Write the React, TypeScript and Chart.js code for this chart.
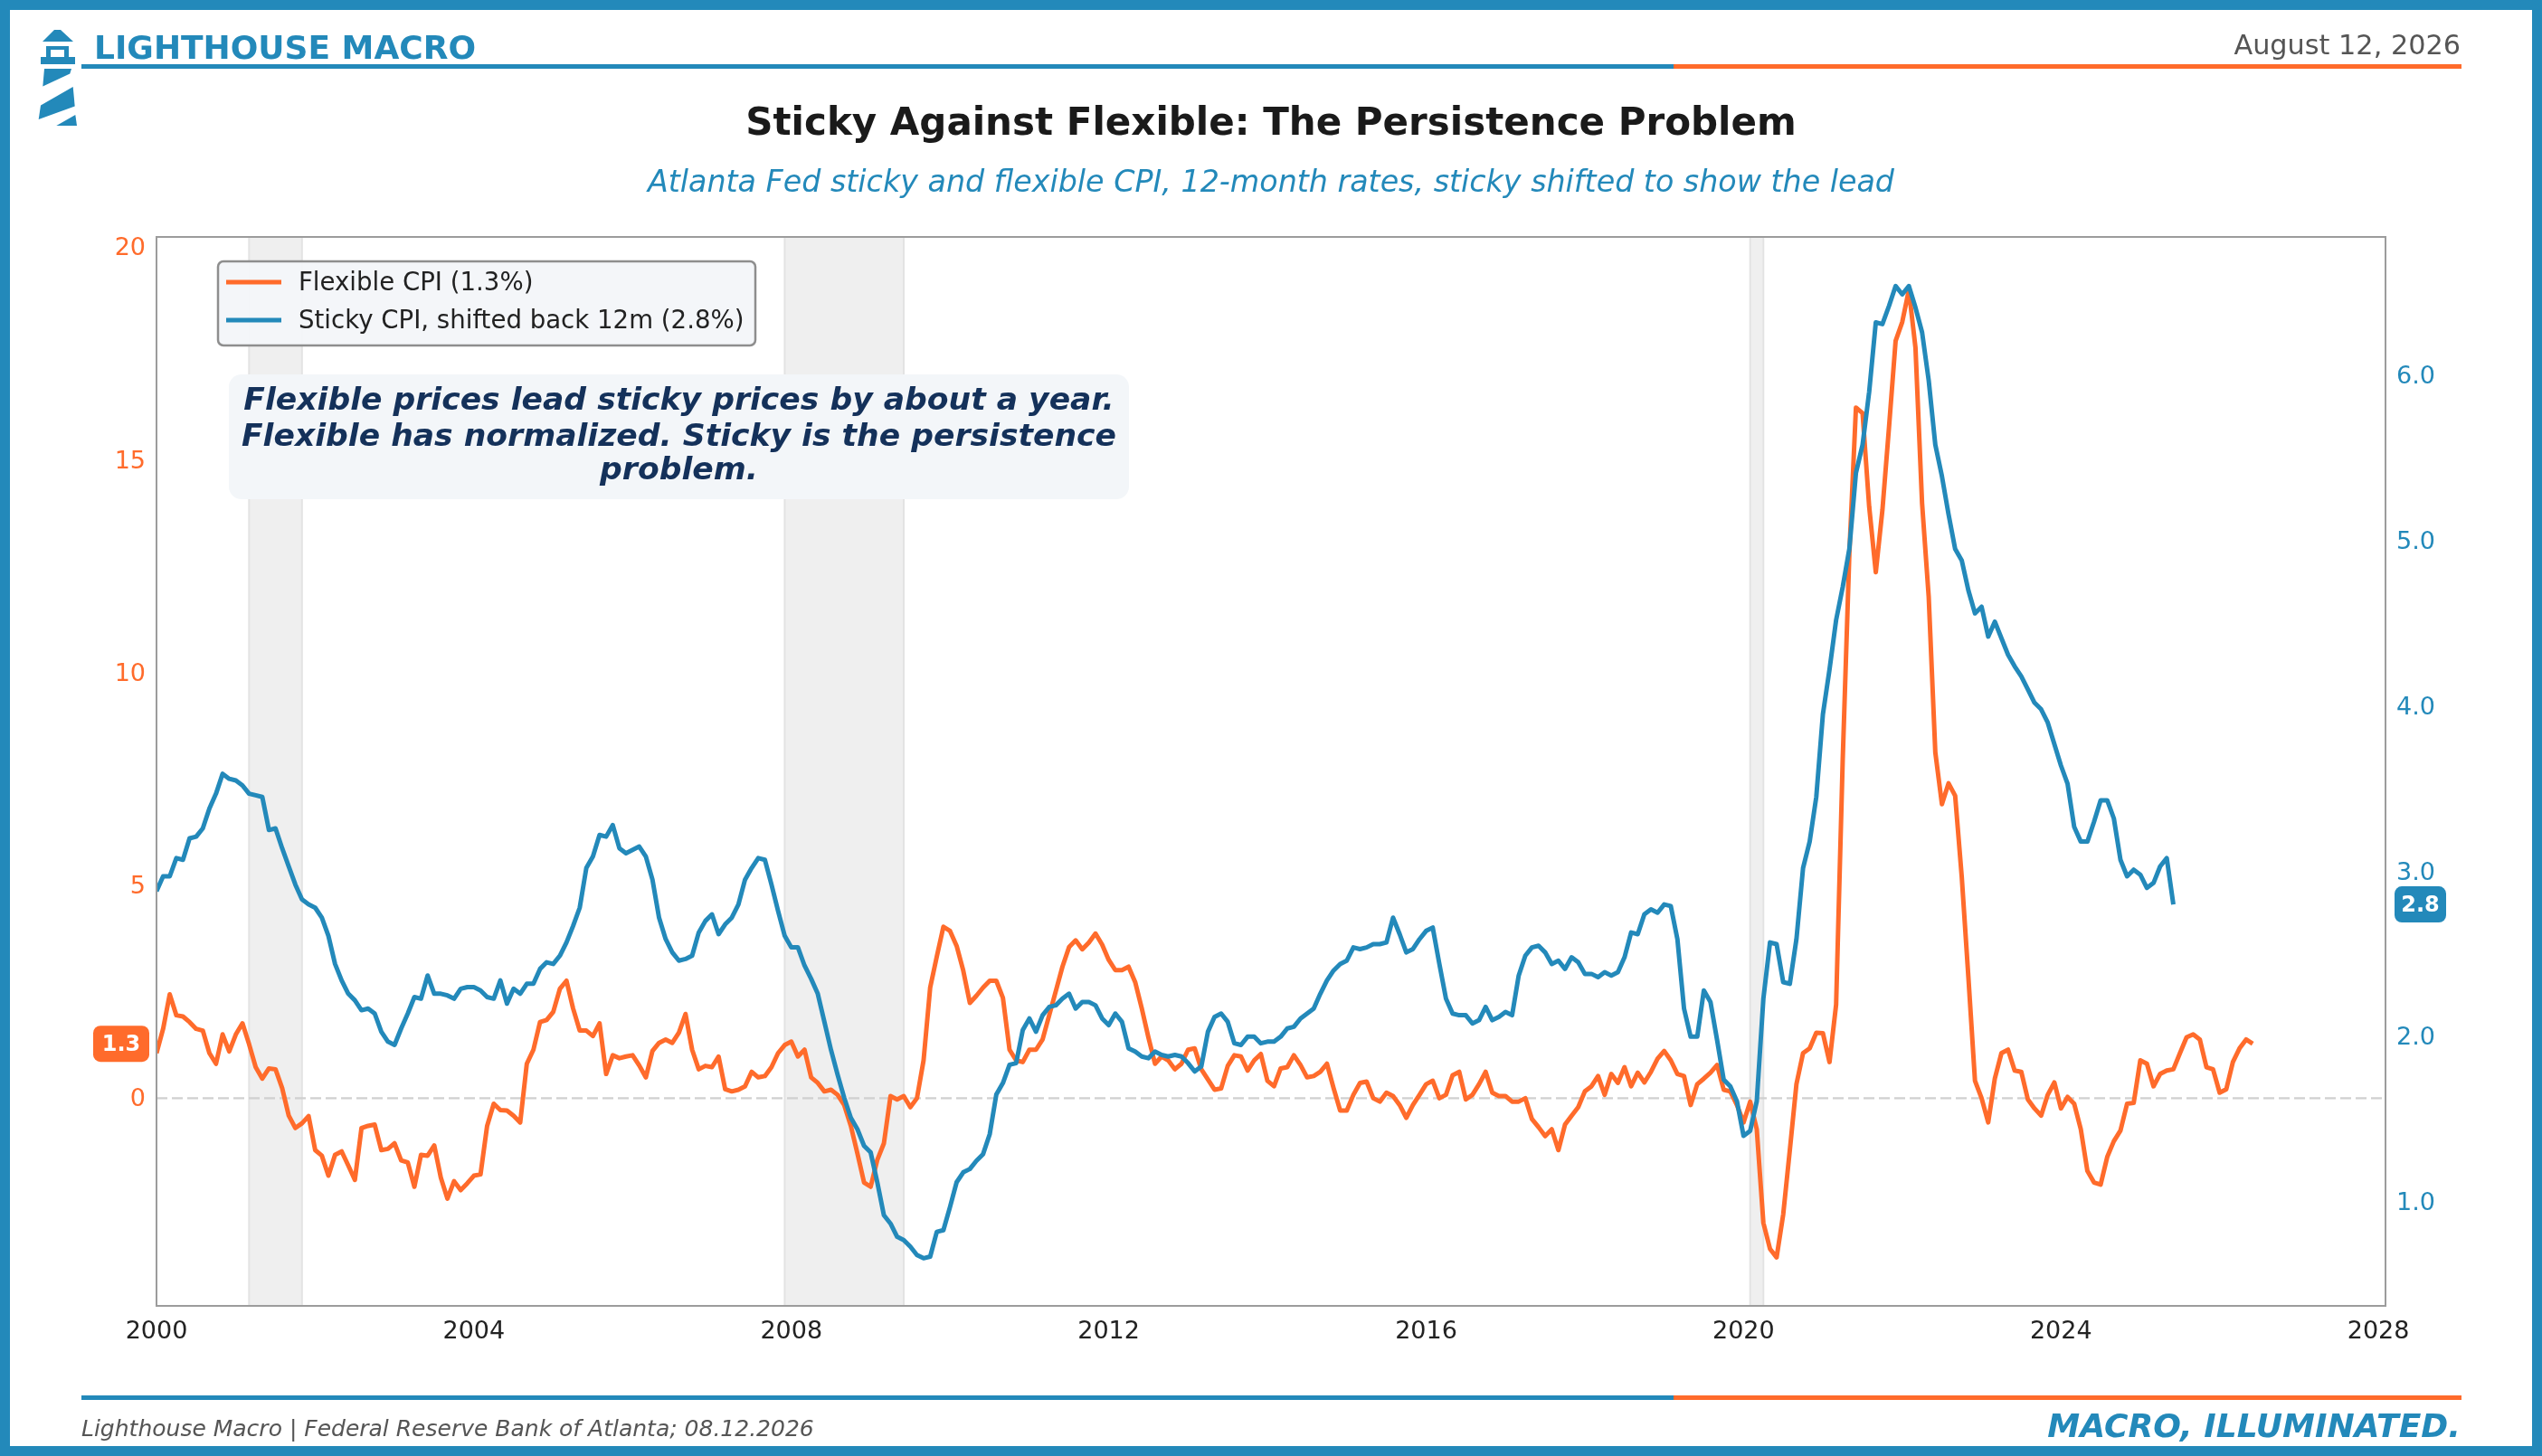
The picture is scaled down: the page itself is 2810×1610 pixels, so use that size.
import React, { useEffect, useRef } from 'react';
import { Chart, registerables } from 'chart.js';

Chart.register(...registerables);

const FONT = "'DejaVu Sans', 'Noto Sans', sans-serif";
const BLUE = '#2389BA';
const ORANGE = '#FF6B2B';
const NAVY = '#14315A';

// ---- data (monthly, 12-month % change) ----
const FLEX_START = '2000-01';
const STICKY_START = '2000-01'; // sticky CPI shifted back 12 months

const flexibleCpi: number[] = [
  1.06, 1.63, 2.44, 1.95, 1.92, 1.79, 1.63, 1.59, 1.06, 0.81, 1.50, 1.10, // 2000
  1.50, 1.76, 1.27, 0.73, 0.46, 0.70, 0.68, 0.24, -0.41, -0.70, -0.59, -0.42, // 2001
  -1.22, -1.35, -1.82, -1.33, -1.25, -1.58, -1.92, -0.70, -0.65, -0.62, -1.22, -1.19, // 2002
  -1.06, -1.46, -1.51, -2.08, -1.33, -1.35, -1.11, -1.87, -2.36, -1.95, -2.16, -2.00, // 2003
  -1.82, -1.79, -0.65, -0.13, -0.28, -0.29, -0.41, -0.57, 0.81, 1.14, 1.79, 1.84, // 2004
  2.03, 2.57, 2.76, 2.11, 1.59, 1.59, 1.46, 1.76, 0.57, 1.01, 0.94, 0.98, // 2005
  1.01, 0.77, 0.49, 1.11, 1.30, 1.38, 1.30, 1.54, 1.98, 1.14, 0.68, 0.76, // 2006
  0.73, 0.98, 0.21, 0.16, 0.20, 0.28, 0.62, 0.49, 0.52, 0.73, 1.06, 1.25, // 2007
  1.33, 0.98, 1.14, 0.49, 0.36, 0.16, 0.20, 0.08, -0.16, -0.65, -1.30, -1.98, // 2008
  -2.08, -1.45, -1.06, 0.05, -0.03, 0.05, -0.21, 0.00, 0.89, 2.60, 3.33, 4.03, // 2009
  3.93, 3.58, 3.00, 2.24, 2.41, 2.60, 2.76, 2.76, 2.36, 1.14, 0.89, 0.85, // 2010
  1.14, 1.14, 1.38, 1.95, 2.52, 3.09, 3.55, 3.71, 3.50, 3.66, 3.87, 3.61, // 2011
  3.25, 3.01, 3.01, 3.09, 2.73, 2.11, 1.43, 0.81, 0.98, 0.89, 0.68, 0.81, // 2012
  1.14, 1.17, 0.68, 0.44, 0.20, 0.23, 0.76, 1.01, 0.98, 0.65, 0.89, 1.04, // 2013
  0.41, 0.28, 0.70, 0.73, 1.01, 0.78, 0.49, 0.52, 0.62, 0.81, 0.24, -0.29, // 2014
  -0.29, 0.08, 0.36, 0.39, 0.00, -0.08, 0.13, 0.05, -0.16, -0.46, -0.16, 0.08, // 2015
  0.33, 0.41, 0.00, 0.08, 0.54, 0.62, -0.03, 0.08, 0.33, 0.62, 0.13, 0.05, // 2016
  0.05, -0.08, -0.08, 0.00, -0.49, -0.68, -0.89, -0.73, -1.22, -0.62, -0.41, -0.21, // 2017
  0.16, 0.28, 0.52, 0.08, 0.57, 0.36, 0.73, 0.28, 0.60, 0.37, 0.62, 0.93, // 2018
  1.11, 0.89, 0.57, 0.52, -0.16, 0.33, 0.46, 0.60, 0.78, 0.20, 0.16, -0.16, // 2019
  -0.57, -0.08, -0.73, -2.93, -3.54, -3.74, -2.73, -1.22, 0.33, 1.06, 1.17, 1.54, // 2020
  1.53, 0.85, 2.20, 7.97, 12.80, 16.23, 16.10, 13.90, 12.36, 13.82, 15.77, 17.80, // 2021
  18.24, 18.99, 17.64, 13.98, 11.79, 8.13, 6.91, 7.40, 7.11, 5.20, 2.85, 0.41, // 2022
  0.00, -0.57, 0.46, 1.06, 1.14, 0.65, 0.62, -0.03, -0.24, -0.41, 0.08, 0.37, // 2023
  -0.24, 0.03, -0.13, -0.73, -1.71, -1.98, -2.03, -1.38, -1.01, -0.76, -0.13, -0.11, // 2024
  0.89, 0.81, 0.28, 0.57, 0.65, 0.68, 1.06, 1.43, 1.50, 1.38, 0.73, 0.68, // 2025
  0.13, 0.21, 0.85, 1.17, 1.38, 1.28, // 2026
];

const stickyCpiShifted: number[] = [
  2.88, 2.97, 2.97, 3.08, 3.07, 3.20, 3.21, 3.26, 3.38, 3.47, 3.59, 3.56, // 2000
  3.55, 3.52, 3.47, 3.46, 3.45, 3.25, 3.26, 3.14, 3.03, 2.92, 2.83, 2.80, // 2001
  2.78, 2.72, 2.61, 2.44, 2.34, 2.26, 2.22, 2.16, 2.17, 2.14, 2.03, 1.97, // 2002
  1.95, 2.05, 2.14, 2.24, 2.23, 2.37, 2.26, 2.26, 2.25, 2.23, 2.29, 2.30, // 2003
  2.30, 2.28, 2.24, 2.23, 2.34, 2.20, 2.29, 2.26, 2.32, 2.32, 2.41, 2.45, // 2004
  2.44, 2.49, 2.57, 2.67, 2.78, 3.02, 3.09, 3.22, 3.21, 3.28, 3.14, 3.11, // 2005
  3.13, 3.15, 3.09, 2.95, 2.72, 2.59, 2.51, 2.46, 2.47, 2.49, 2.63, 2.70, // 2006
  2.74, 2.62, 2.68, 2.72, 2.80, 2.95, 3.02, 3.08, 3.07, 2.92, 2.76, 2.61, // 2007
  2.54, 2.54, 2.43, 2.35, 2.26, 2.09, 1.92, 1.77, 1.63, 1.51, 1.44, 1.34, // 2008
  1.30, 1.12, 0.92, 0.87, 0.79, 0.77, 0.73, 0.68, 0.66, 0.67, 0.82, 0.83, // 2009
  0.97, 1.12, 1.18, 1.20, 1.25, 1.29, 1.41, 1.65, 1.72, 1.83, 1.84, 2.04, // 2010
  2.11, 2.03, 2.13, 2.18, 2.19, 2.23, 2.26, 2.17, 2.21, 2.21, 2.19, 2.11, // 2011
  2.07, 2.14, 2.09, 1.93, 1.91, 1.88, 1.87, 1.91, 1.89, 1.88, 1.89, 1.88, // 2012
  1.84, 1.79, 1.82, 2.03, 2.12, 2.14, 2.09, 1.96, 1.95, 2.00, 2.00, 1.96, // 2013
  1.97, 1.97, 2.00, 2.05, 2.06, 2.11, 2.14, 2.17, 2.26, 2.34, 2.40, 2.44, // 2014
  2.46, 2.54, 2.53, 2.54, 2.56, 2.56, 2.57, 2.72, 2.62, 2.51, 2.53, 2.59, // 2015
  2.64, 2.66, 2.44, 2.23, 2.14, 2.13, 2.13, 2.08, 2.10, 2.18, 2.10, 2.12, // 2016
  2.15, 2.13, 2.37, 2.49, 2.54, 2.55, 2.51, 2.44, 2.46, 2.41, 2.48, 2.45, // 2017
  2.38, 2.38, 2.36, 2.39, 2.37, 2.39, 2.48, 2.63, 2.62, 2.74, 2.77, 2.75, // 2018
  2.80, 2.79, 2.59, 2.17, 2.00, 2.00, 2.28, 2.21, 1.98, 1.74, 1.70, 1.61, // 2019
  1.40, 1.43, 1.61, 2.23, 2.57, 2.56, 2.33, 2.32, 2.59, 3.02, 3.18, 3.45, // 2020
  3.95, 4.22, 4.52, 4.72, 4.95, 5.41, 5.58, 5.90, 6.32, 6.31, 6.42, 6.54, // 2021
  6.49, 6.54, 6.41, 6.26, 5.97, 5.58, 5.39, 5.16, 4.95, 4.88, 4.70, 4.56, // 2022
  4.60, 4.42, 4.51, 4.41, 4.31, 4.24, 4.18, 4.10, 4.02, 3.98, 3.90, 3.77, // 2023
  3.64, 3.53, 3.27, 3.18, 3.18, 3.30, 3.43, 3.43, 3.32, 3.07, 2.97, 3.01, // 2024
  2.98, 2.90, 2.93, 3.03, 3.08, 2.80, // 2025
];

const yearTicks = [2000, 2004, 2008, 2012, 2016, 2020, 2024, 2028];
const flexTicks = [0, 5, 10, 15, 20];
const stickyTicks = [1, 2, 3, 4, 5, 6];
const recessions: [string, string][] = [
  ['2001-03', '2001-11'],
  ['2007-12', '2009-06'],
  ['2020-02', '2020-04'],
];
const xRange = [2000, 2028.09];
const flexRange = [-4.88, 20.24];
const stickyRange = [0.372, 6.837];

const annotationLines = [
  'Flexible prices lead sticky prices by about a year.',
  'Flexible has normalized. Sticky is the persistence',
  'problem.',
];

function ymToYear(s: string): number {
  const [y, m] = s.split('-').map(Number);
  return y + (m - 1) / 12;
}
function toPoints(start: string, values: number[]) {
  const s = ymToYear(start);
  return values.map((v, i) => ({ x: s + i / 12, y: v }));
}

const lastFlex = flexibleCpi[flexibleCpi.length - 1];
const lastSticky = stickyCpiShifted[stickyCpiShifted.length - 1];
const flexLabel = `Flexible CPI (${lastFlex.toFixed(1)}%)`;
const stickyLabel = `Sticky CPI, shifted back 12m (${lastSticky.toFixed(1)}%)`;

const decorPlugin = {
  id: 'decor',
  beforeDatasetsDraw(chart: any) {
    const { ctx, chartArea: a, scales } = chart;
    const x = scales.x;
    const yL = scales.yL;
    ctx.save();
    ctx.beginPath();
    ctx.rect(a.left, a.top, a.right - a.left, a.bottom - a.top);
    ctx.clip();
    for (const [s, e] of recessions) {
      const x0 = x.getPixelForValue(ymToYear(s));
      const x1 = x.getPixelForValue(ymToYear(e));
      ctx.fillStyle = '#efefef';
      ctx.fillRect(x0, a.top, x1 - x0, a.bottom - a.top);
      ctx.strokeStyle = '#e3e3e3';
      ctx.lineWidth = 2;
      ctx.beginPath();
      ctx.moveTo(x0, a.top);
      ctx.lineTo(x0, a.bottom);
      ctx.moveTo(x1, a.top);
      ctx.lineTo(x1, a.bottom);
      ctx.stroke();
    }
    const y0 = yL.getPixelForValue(0);
    ctx.setLineDash([12, 5]);
    ctx.strokeStyle = '#d0d0d0';
    ctx.lineWidth = 2.2;
    ctx.beginPath();
    ctx.moveTo(a.left, y0);
    ctx.lineTo(a.right, y0);
    ctx.stroke();
    ctx.restore();
  },
  afterDatasetsDraw(chart: any) {
    const { ctx, chartArea: a, scales } = chart;
    ctx.save();
    // frame
    ctx.strokeStyle = '#9c9c9c';
    ctx.lineWidth = 2;
    ctx.strokeRect(a.left, a.top, a.right - a.left, a.bottom - a.top);

    // legend
    const lx = a.left + 68;
    const ly = a.top + 27;
    ctx.beginPath();
    ctx.roundRect(lx, ly, 594, 93, 6);
    ctx.fillStyle = 'rgba(244,246,249,0.97)';
    ctx.fill();
    ctx.strokeStyle = '#8e8e8e';
    ctx.lineWidth = 2.5;
    ctx.stroke();
    const rows = [
      { c: ORANGE, t: flexLabel, y: ly + 23 },
      { c: BLUE, t: stickyLabel, y: ly + 65 },
    ];
    ctx.font = `27.6px ${FONT}`;
    ctx.textBaseline = 'middle';
    ctx.textAlign = 'left';
    for (const r of rows) {
      ctx.strokeStyle = r.c;
      ctx.lineWidth = 5;
      ctx.beginPath();
      ctx.moveTo(lx + 9, r.y);
      ctx.lineTo(lx + 70, r.y);
      ctx.stroke();
      ctx.fillStyle = '#222222';
      ctx.fillText(r.t, lx + 89, r.y + 1.5);
    }

    // annotation box
    const bx = a.left + 80;
    const by = a.top + 152;
    const bw = 995;
    const bh = 138;
    ctx.beginPath();
    ctx.roundRect(bx, by, bw, bh, 14);
    ctx.fillStyle = '#f3f6f9';
    ctx.fill();
    ctx.fillStyle = NAVY;
    ctx.font = `italic bold 34.6px ${FONT}`;
    ctx.textAlign = 'center';
    ctx.textBaseline = 'alphabetic';
    const base = [39, 79, 116];
    annotationLines.forEach((line, i) => {
      ctx.fillText(line, bx + bw / 2, by + base[i]);
    });

    // last-value tags
    const tag = (cx0: number, w: number, yc: number, color: string, text: string) => {
      ctx.beginPath();
      ctx.roundRect(cx0, yc - 20, w, 40, 8);
      ctx.fillStyle = color;
      ctx.fill();
      ctx.fillStyle = '#ffffff';
      ctx.font = `bold 24px ${FONT}`;
      ctx.textAlign = 'center';
      ctx.textBaseline = 'middle';
      ctx.fillText(text, cx0 + w / 2, yc + 1.5);
    };
    tag(a.right + 10, 57, scales.yR.getPixelForValue(lastSticky), BLUE, lastSticky.toFixed(1));
    tag(a.left - 70, 62, scales.yL.getPixelForValue(lastFlex), ORANGE, lastFlex.toFixed(1));
    ctx.restore();
  },
};

function ChartCanvas() {
  const ref = useRef<HTMLCanvasElement | null>(null);
  useEffect(() => {
    if (!ref.current) return;
    Chart.defaults.font.family = FONT;
    const tickFont = { size: 27, family: FONT };
    const chart = new Chart(ref.current, {
      type: 'line',
      data: {
        datasets: [
          {
            label: flexLabel,
            data: toPoints(FLEX_START, flexibleCpi),
            yAxisID: 'yL',
            borderColor: ORANGE,
            borderWidth: 5,
            pointRadius: 0,
            tension: 0,
            borderJoinStyle: 'round',
            order: 2,
          },
          {
            label: stickyLabel,
            data: toPoints(STICKY_START, stickyCpiShifted),
            yAxisID: 'yR',
            borderColor: BLUE,
            borderWidth: 5,
            pointRadius: 0,
            tension: 0,
            borderJoinStyle: 'round',
            order: 1,
          },
        ],
      },
      options: {
        animation: false,
        responsive: false,
        events: [],
        layout: { padding: { left: 73, right: 53, top: 262, bottom: 106 } },
        plugins: { legend: { display: false }, tooltip: { enabled: false } },
        scales: {
          x: {
            type: 'linear',
            min: xRange[0],
            max: xRange[1],
            grid: { display: false, drawTicks: false, tickLength: 0 },
            border: { display: false },
            ticks: {
              font: tickFont,
              color: '#222222',
              padding: 13,
              maxRotation: 0,
              minRotation: 0,
              autoSkip: false,
              callback: (v: any) => String(v),
            },
            afterBuildTicks: (axis: any) => {
              axis.ticks = yearTicks.map((v) => ({ value: v }));
            },
            afterFit: (s: any) => {
              s.height = 60;
            },
          },
          yL: {
            type: 'linear',
            position: 'left',
            min: flexRange[0],
            max: flexRange[1],
            grid: { display: false, drawTicks: false, tickLength: 0 },
            border: { display: false },
            ticks: {
              font: tickFont,
              color: ORANGE,
              padding: 12,
              labelOffset: 2,
              callback: (v: any) => String(v),
            },
            afterBuildTicks: (axis: any) => {
              axis.ticks = flexTicks.map((v) => ({ value: v }));
            },
            afterFit: (s: any) => {
              s.width = 100;
            },
          },
          yR: {
            type: 'linear',
            position: 'right',
            min: stickyRange[0],
            max: stickyRange[1],
            grid: { display: false, drawTicks: false, tickLength: 0 },
            border: { display: false },
            ticks: {
              font: tickFont,
              color: BLUE,
              padding: 12,
              labelOffset: 2,
              callback: (v: any) => Number(v).toFixed(1),
            },
            afterBuildTicks: (axis: any) => {
              axis.ticks = stickyTicks.map((v) => ({ value: v }));
            },
            afterFit: (s: any) => {
              s.width = 120;
            },
          },
        },
      } as any,
      plugins: [decorPlugin],
    } as any);
    return () => chart.destroy();
  }, []);
  return (
    <canvas
      ref={ref}
      width={2810}
      height={1610}
      style={{ position: 'absolute', left: 0, top: 0, width: 2810, height: 1610 }}
    />
  );
}

function Text(props: {
  text: string;
  size: number;
  baseline: number;
  left?: number;
  right?: number;
  center?: boolean;
  color: string;
  weight?: string;
  italic?: boolean;
}) {
  const { text, size, baseline, left, right, center, color, weight, italic } = props;
  const style: any = {
    position: 'absolute',
    top: baseline - 0.846 * size,
    fontSize: size,
    lineHeight: `${size}px`,
    color,
    fontWeight: weight || 'normal',
    fontStyle: italic ? 'italic' : 'normal',
    whiteSpace: 'nowrap',
    fontFamily: FONT,
  };
  if (center) {
    style.left = 0;
    style.width = 2810;
    style.textAlign = 'center';
  } else if (right !== undefined) {
    style.right = right;
    style.textAlign = 'right';
  } else {
    style.left = left;
  }
  return <div style={style}>{text}</div>;
}

function Lighthouse() {
  return (
    <svg
      width={160}
      height={160}
      viewBox="0 0 160 160"
      style={{ position: 'absolute', left: 0, top: 0 }}
    >
      <g fill={BLUE}>
        <polygon points="47,46 81,46 67,33 60,33" />
        <rect x={51} y={51} width={25} height={4} />
        <rect x={51} y={51} width={5} height={13} />
        <rect x={71} y={51} width={5} height={13} />
        <rect x={45} y={63} width={38} height={8} />
        <polygon points="49,76 79,76 77.3,81.5 47.3,95.5" />
        <polygon points="80.7,96 82.7,117.5 42.7,132 45,116.5" />
        <polygon points="83.3,127 85,139 62.3,139" />
      </g>
    </svg>
  );
}

export default function App() {
  return (
    <div
      style={{
        position: 'fixed',
        left: 0,
        top: 0,
        width: 2810,
        height: 1610,
        background: '#ffffff',
        overflow: 'hidden',
        fontFamily: FONT,
      }}
    >
      <ChartCanvas />
      <Lighthouse />
      <Text text="LIGHTHOUSE MACRO" size={36} baseline={65} left={104} color={BLUE} weight="bold" />
      <Text text="August 12, 2026" size={30.3} baseline={61} right={90} color="#555555" />
      <div style={{ position: 'absolute', left: 90, top: 71, width: 1760, height: 5, background: BLUE }} />
      <div style={{ position: 'absolute', left: 1850, top: 71, width: 871, height: 5, background: ORANGE }} />
      <Text
        text="Sticky Against Flexible: The Persistence Problem"
        size={42}
        baseline={150}
        center
        color="#1a1a1a"
        weight="bold"
      />
      <Text
        text="Atlanta Fed sticky and flexible CPI, 12-month rates, sticky shifted to show the lead"
        size={33.3}
        baseline={212}
        center
        color={BLUE}
        italic
      />
      <div style={{ position: 'absolute', left: 90, top: 1543, width: 1760, height: 5, background: BLUE }} />
      <div style={{ position: 'absolute', left: 1850, top: 1543, width: 871, height: 5, background: ORANGE }} />
      <Text
        text="Lighthouse Macro | Federal Reserve Bank of Atlanta; 08.12.2026"
        size={25}
        baseline={1588}
        left={90}
        color="#555555"
        italic
      />
      <Text
        text="MACRO, ILLUMINATED."
        size={36.1}
        baseline={1590}
        right={90}
        color={BLUE}
        weight="bold"
        italic
      />
      <div
        style={{
          position: 'absolute',
          left: 0,
          top: 0,
          width: 2810,
          height: 1610,
          border: `11px solid ${BLUE}`,
          boxSizing: 'border-box',
          pointerEvents: 'none',
        }}
      />
    </div>
  );
}
